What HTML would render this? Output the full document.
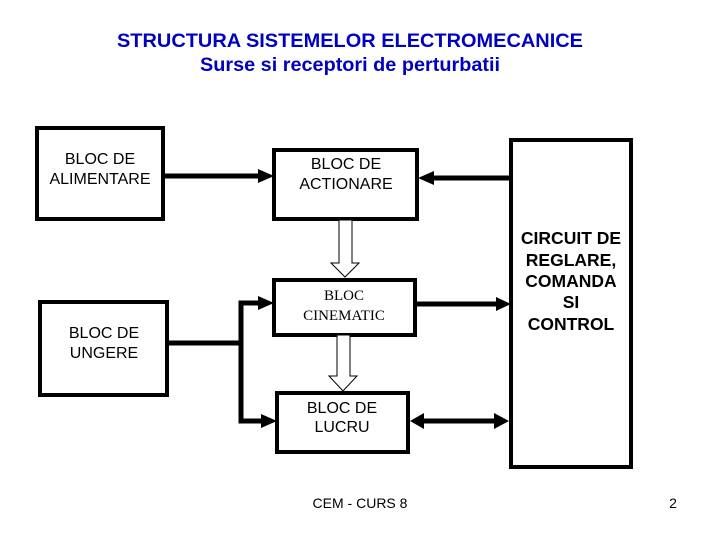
<!DOCTYPE html>
<html><head><style>
body{margin:0;width:720px;height:540px;background:#fff;overflow:hidden}
svg text{font-family:"Liberation Sans",sans-serif;}
</style></head><body>
<svg width="720" height="540" xmlns="http://www.w3.org/2000/svg">
<text x="117" y="47" font-size="19" font-weight="bold" fill="#0000c0" textLength="466" lengthAdjust="spacingAndGlyphs">STRUCTURA SISTEMELOR ELECTROMECANICE</text>
<text x="200" y="71" font-size="19" font-weight="bold" fill="#0000c0" textLength="300" lengthAdjust="spacingAndGlyphs">Surse si receptori de perturbatii</text>
<g fill="none" stroke="#000" stroke-width="4">
<rect x="37" y="128" width="126" height="91"/>
<rect x="274" y="150" width="143" height="69"/>
<rect x="274" y="280" width="141" height="55"/>
<rect x="277" y="393" width="131" height="59"/>
<rect x="40" y="302" width="127" height="93"/>
<rect x="511" y="140" width="120" height="327"/>
</g>
<g stroke="#000" stroke-width="5" fill="none">
<line x1="163" y1="176" x2="262" y2="176"/>
<line x1="511" y1="178" x2="430" y2="178"/>
<line x1="415" y1="304" x2="500" y2="304"/>
<line x1="422" y1="421" x2="497" y2="421"/>
<polyline points="167,343 241,343 241,303 262,303"/>
<polyline points="241,343 241,421 264,421"/>
</g>
<g fill="#000">
<polygon points="258,169 274,176 258,183"/>
<polygon points="434,171 418,178 434,185"/>
<polygon points="496,297 511,304 496,311"/>
<polygon points="424,413 410,421 424,429"/>
<polygon points="494,413 509,421 494,429"/>
<polygon points="258,296 274,303 258,310"/>
<polygon points="261,414 277,421 261,428"/>
</g>
<g fill="#fff" stroke="#000" stroke-width="1">
<polygon points="339,220 352,220 352,263 359,263 345,277 331,263 339,263"/>
<polygon points="337,335 350,335 350,376 357,376 343,391 329,376 337,376"/>
</g>
<g font-size="16" text-anchor="middle" fill="#000">
<text x="100" y="164">BLOC DE</text>
<text x="100" y="184">ALIMENTARE</text>
<text x="346" y="169">BLOC DE</text>
<text x="346" y="189">ACTIONARE</text>
<text x="104" y="338">BLOC DE</text>
<text x="104" y="358">UNGERE</text>
<text x="342" y="413">BLOC DE</text>
<text x="342" y="432">LUCRU</text>
<text x="344" y="300" style="font-family:'Liberation Serif',serif" font-size="15">BLOC</text>
<text x="344" y="320" style="font-family:'Liberation Serif',serif" font-size="15">CINEMATIC</text>
<g font-weight="bold" font-size="17.5">
<text x="571" y="244">CIRCUIT DE</text>
<text x="571" y="266">REGLARE,</text>
<text x="571" y="287">COMANDA</text>
<text x="571" y="308">SI</text>
<text x="571" y="330">CONTROL</text>
</g>
<text x="360" y="508" font-size="14">CEM - CURS 8</text>
<text x="673" y="508" font-size="14">2</text>
</g>
</svg>
</body></html>
